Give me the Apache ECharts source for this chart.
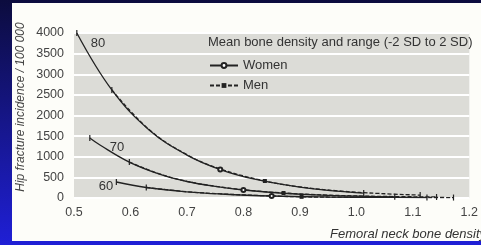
<!DOCTYPE html>
<html>
<head>
<meta charset="utf-8">
<script src="https://cdn.jsdelivr.net/npm/echarts@6/dist/echarts.min.js"></script>
<style>
  html, body { margin: 0; padding: 0; }
  body { width: 481px; height: 245px; overflow: hidden; position: relative;
         background: linear-gradient(180deg, #0c0c3e 0%, #16168a 50%, #1f1fd6 100%); }
  #main { position: absolute; left: 12px; top: 3px; width: 469px; height: 238px; background: #fdfdf9; }
</style>
</head>
<body>
<div id="main"></div>
<script>
// tick labels
var xTicks = [0.5, 0.6, 0.7, 0.8, 0.9, 1.0, 1.1, 1.2]
var yTicks = [0, 500, 1000, 1500, 2000, 2500, 3000, 3500, 4000]

// age 80
var women80X = [0.505, 0.567, 0.633, 0.70, 0.759, 0.82, 0.90, 0.96, 1.013]
var women80Y = [4000, 2620, 1650, 1040, 690, 455, 262, 175, 120]
var men80X = [0.567, 0.633, 0.70, 0.76, 0.838, 0.90, 0.97, 1.04, 1.113]
var men80Y = [2620, 1660, 1050, 700, 412, 270, 170, 110, 70]
// age 70
var women70X = [0.528, 0.546, 0.598, 0.65, 0.70, 0.75, 0.80, 0.87, 0.95, 1.068]
var women70Y = [1455, 1285, 870, 585, 400, 280, 194, 115, 63, 28]
var men70X = [0.598, 0.65, 0.70, 0.75, 0.80, 0.871, 0.95, 1.04, 1.142]
var men70Y = [870, 590, 405, 285, 200, 121, 70, 40, 25]
// age 60
var women60X = [0.575, 0.628, 0.70, 0.76, 0.85, 0.95, 1.04, 1.125]
var women60Y = [388, 255, 150, 97, 48, 24, 16, 11]
var men60X = [0.628, 0.70, 0.76, 0.83, 0.903, 0.98, 1.07, 1.172]
var men60Y = [255, 152, 100, 60, 28, 20, 15, 11]

var ages = ['80', '70', '60']
var womenMean = [4, 6, 4]   // index of the mean point
var menMean = [4, 5, 4]

var font = 'Liberation Sans, Arial, sans-serif'
var ink = '#222'

// 把 x / y 拼成折线点，均值处画符号，两端画短竖线
function buildData(xs, ys, meanIdx) {
  return xs.map(function (x, i) {
    var item = { value: [x, ys[i]] }
    if (i === 0 || i === xs.length - 1) {
      item.symbol = 'rect'
      item.symbolSize = [1.2, 6]
    } else if (i !== meanIdx) {
      item.symbol = 'none'
    }
    return item
  })
}

var womenX = [women80X, women70X, women60X]
var womenY = [women80Y, women70Y, women60Y]
var menX = [men80X, men70X, men60X]
var menY = [men80Y, men70Y, men60Y]

var series = []
for (var k = 0; k < 3; k++) {
  series.push({
    name: 'Women',
    type: 'line',
    smooth: 0.4,
    symbol: 'emptyCircle',
    symbolSize: 4,
    showAllSymbol: true,
    itemStyle: { color: ink, borderWidth: 0.8 },
    lineStyle: { color: ink, width: 1.3 },
    data: buildData(womenX[k], womenY[k], womenMean[k])
  })
  series.push({
    name: 'Men',
    type: 'line',
    smooth: 0.4,
    symbol: 'rect',
    symbolSize: 4,
    showAllSymbol: true,
    itemStyle: { color: ink, borderWidth: 0 },
    lineStyle: { color: ink, width: 1.3, type: [4, 2] },
    data: buildData(menX[k], menY[k], menMean[k])
  })
}

var chart = echarts.init(document.getElementById('main'))
var option = {
  animation: false,
  backgroundColor: 'transparent',
  textStyle: { fontFamily: font },
  title: {
    text: 'Mean bone density and range (-2 SD to 2 SD)',
    left: 196, top: 33, padding: 0,
    textStyle: { fontSize: 13, fontWeight: 'normal', color: '#333', fontFamily: font }
  },
  legend: {
    data: ['Women', 'Men'],
    orient: 'vertical',
    left: 197, top: 56, padding: 0,
    itemWidth: 28, itemHeight: 6, itemGap: 7,
    textStyle: { fontSize: 13, color: '#333', fontFamily: font }
  },
  grid: {
    left: 62, right: 7, top: 30, bottom: 43,
    show: true, backgroundColor: '#dcdcd7', borderWidth: 0
  },
  xAxis: {
    type: 'value', min: xTicks[0], max: xTicks[xTicks.length - 1], interval: 0.1,
    axisLine: { show: false }, axisTick: { show: false }, splitLine: { show: false },
    axisLabel: { fontSize: 12.5, color: '#444', margin: 8,
      formatter: function (v) { return v.toFixed(1) } }
  },
  yAxis: {
    type: 'value', min: yTicks[0], max: yTicks[yTicks.length - 1], interval: 500,
    axisLine: { show: false }, axisTick: { show: false },
    splitLine: { lineStyle: { color: '#fff', width: 2 } },
    axisLabel: { fontSize: 12.5, color: '#444', margin: 10,
      formatter: function (v) { return String(v) } }
  },
  graphic: [
    { type: 'text', x: 9, y: 104, rotation: Math.PI / 2,
      style: { text: 'Hip fracture incidence / 100 000', fill: '#444', align: 'center', verticalAlign: 'middle',
        font: 'italic 12px ' + font } },
    { type: 'text', x: 318, y: 231,
      style: { text: 'Femoral neck bone density', fill: '#333', align: 'left', verticalAlign: 'middle',
        font: 'italic 13px ' + font } },
    { type: 'text', x: 86, y: 40,
      style: { text: ages[0], fill: '#333', align: 'center', verticalAlign: 'middle', font: '13px ' + font } },
    { type: 'text', x: 105, y: 144,
      style: { text: ages[1], fill: '#333', align: 'center', verticalAlign: 'middle', font: '13px ' + font } },
    { type: 'text', x: 94, y: 183,
      style: { text: ages[2], fill: '#333', align: 'center', verticalAlign: 'middle', font: '13px ' + font } }
  ],
  series: series
}
chart.setOption(option)
</script>
</body>
</html>
